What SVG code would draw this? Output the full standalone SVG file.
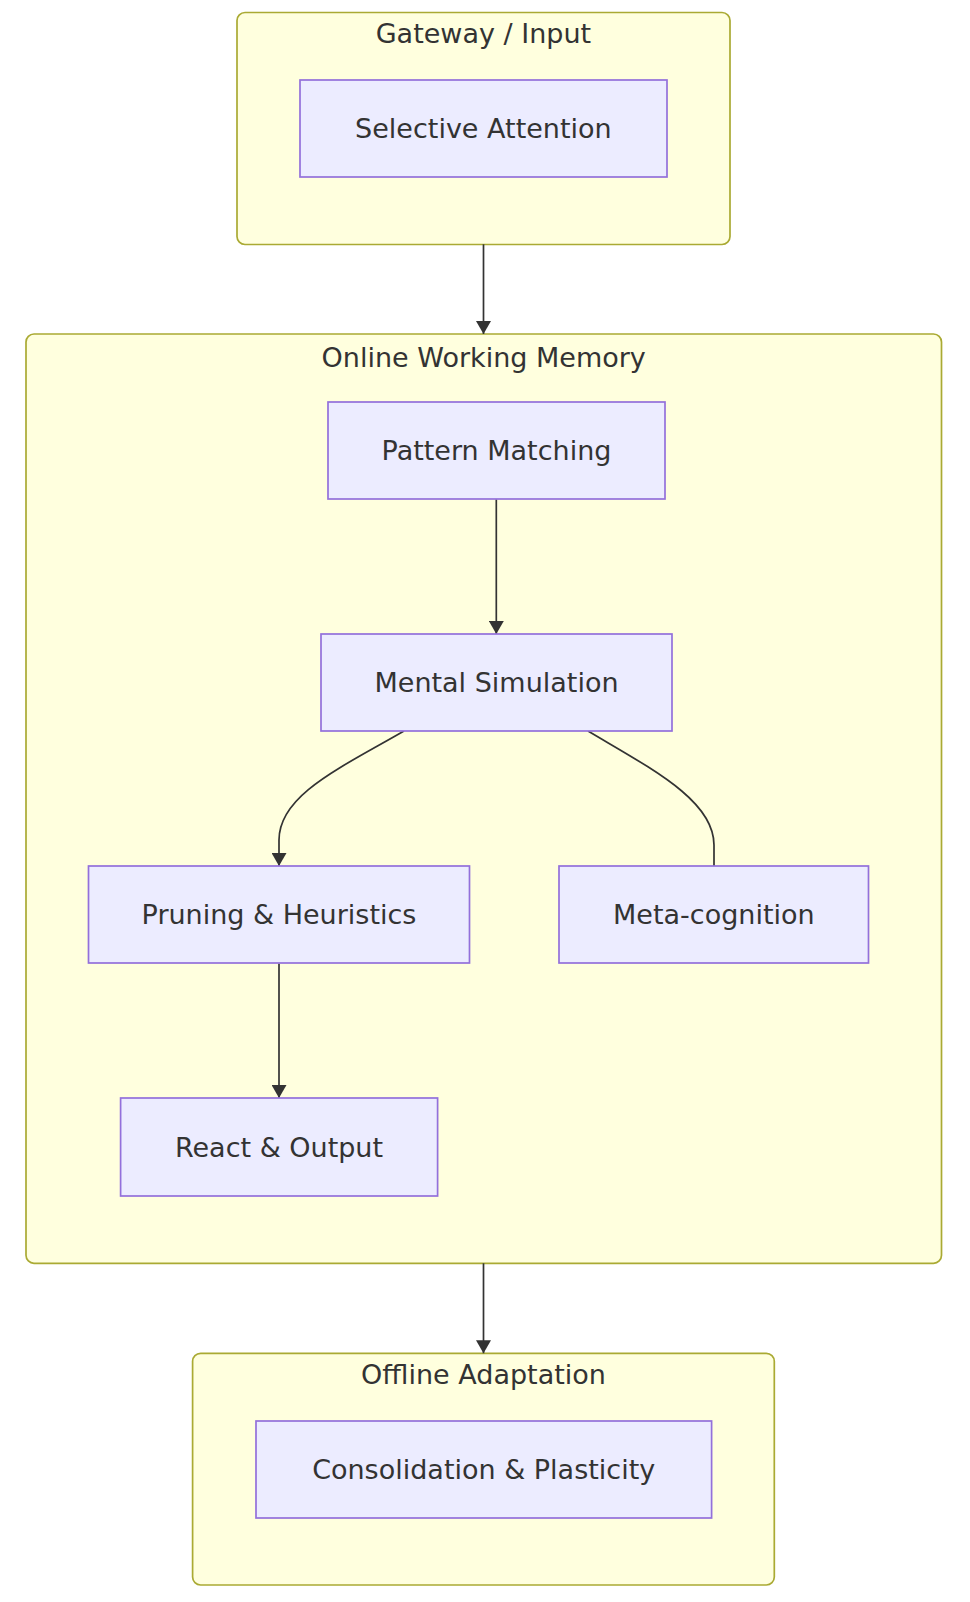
<svg xmlns="http://www.w3.org/2000/svg" width="970" height="1602" viewBox="0 0 970 1602">
<style>
.cluster rect{fill:#ffffde;stroke:#aaaa33;stroke-width:1.7}
.node rect{fill:#ECECFF;stroke:#9370DB;stroke-width:1.7}
text{font-family:"DejaVu Sans",Verdana,sans-serif;font-size:27px;fill:#333;text-anchor:middle}
.edge{fill:none;stroke:#333;stroke-width:1.7}
</style>
<defs>
<marker id="arr" markerUnits="userSpaceOnUse" viewBox="0 0 13 15" refX="13" refY="7.5" markerWidth="13" markerHeight="15" orient="auto">
<path d="M0,0 L13,7.5 L0,15 z" fill="#333"/>
</marker>
</defs>
<rect width="970" height="1602" fill="#fff"/>
<g id="cluster-gateway" class="cluster">
<rect x="237" y="12.5" width="493" height="232" rx="8"/>
<text x="483.4" y="43">Gateway / Input</text>
</g>
<g id="cluster-online" class="cluster">
<rect x="26" y="334" width="915.5" height="929.3" rx="8"/>
<text x="483.7" y="366.5">Online Working Memory</text>
</g>
<g id="cluster-offline" class="cluster">
<rect x="192.6" y="1353.3" width="581.7" height="231.7" rx="8"/>
<text x="483.5" y="1384">Offline Adaptation</text>
</g>
<g id="connectors">
<path class="edge" d="M483.5,244.3 L483.5,334" marker-end="url(#arr)"/>
<path class="edge" d="M496.3,499.3 L496.3,634" marker-end="url(#arr)"/>
<path class="edge" d="M404,731 C340,768 279,795 279,840 L279,866" marker-end="url(#arr)"/>
<path class="edge" d="M588,731 C650,768 714,800 714,845 L714,866"/>
<path class="edge" d="M279,963.5 L279,1098" marker-end="url(#arr)"/>
<path class="edge" d="M483.5,1263.3 L483.5,1353.3" marker-end="url(#arr)"/>
</g>
<g id="node-selective" class="node">
<rect x="300" y="80" width="367" height="97"/>
<text x="483.4" y="138">Selective Attention</text>
</g>
<g id="node-pattern" class="node">
<rect x="328" y="402" width="337" height="97"/>
<text x="496.5" y="460">Pattern Matching</text>
</g>
<g id="node-mental" class="node">
<rect x="321" y="634" width="351" height="97"/>
<text x="496.5" y="692">Mental Simulation</text>
</g>
<g id="node-pruning" class="node">
<rect x="88.5" y="866" width="381" height="97"/>
<text x="279" y="924">Pruning &amp; Heuristics</text>
</g>
<g id="node-meta" class="node">
<rect x="559" y="866" width="309.5" height="97"/>
<text x="713.9" y="924">Meta-cognition</text>
</g>
<g id="node-react" class="node">
<rect x="120.6" y="1098" width="317" height="98"/>
<text x="279" y="1156.5">React &amp; Output</text>
</g>
<g id="node-consolidation" class="node">
<rect x="256" y="1421" width="455.6" height="97"/>
<text x="483.7" y="1479">Consolidation &amp; Plasticity</text>
</g>
</svg>
